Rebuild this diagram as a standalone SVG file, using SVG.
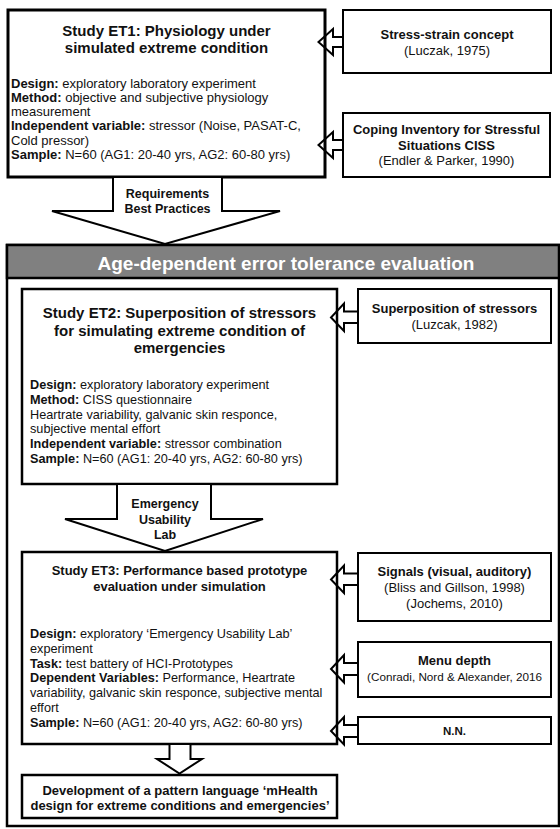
<svg xmlns="http://www.w3.org/2000/svg" width="560" height="829" viewBox="0 0 560 829">
<style>
text{font-family:"Liberation Sans",Arial,sans-serif;fill:#111}
.b{font-weight:bold}
.t15{font-size:15px;font-weight:bold}
.t13b{font-size:13px;font-weight:bold}
.c{text-anchor:middle}
.body13{font-size:13px}
.body127{font-size:12.7px}
.main{fill:#fff;stroke:#000;stroke-width:3}
.mid{fill:#fff;stroke:#000;stroke-width:2.5}
.side{fill:#fff;stroke:#000;stroke-width:2}
.conn{fill:#fff;stroke:#000;stroke-width:2;stroke-linejoin:miter}
.conn2{fill:none;stroke:#000;stroke-width:2;stroke-linejoin:miter}
</style>
<rect width="560" height="829" fill="#fff"/>

<g id="frame">
<rect x="7" y="245" width="552" height="581" fill="#fff" stroke="#000" stroke-width="2.5"/>
<rect x="7" y="245" width="552" height="33" fill="#808080" stroke="#000" stroke-width="2.5"/>
<text x="286" y="270" class="c b" style="font-size:19px;fill:#fff">Age-dependent error tolerance evaluation</text>
</g>

<g id="et1">
<rect x="8" y="10" width="317" height="167" class="main"/>
<text x="166.5" y="36" class="c t15">Study ET1: Physiology under</text>
<text x="166.5" y="52.7" class="c t15">simulated extreme condition</text>
<g class="body13">
<text x="11" y="87.5"><tspan class="b">Design:</tspan> exploratory laboratory experiment</text>
<text x="11" y="101.8"><tspan class="b">Method:</tspan> objective and subjective physiology</text>
<text x="11" y="116.1">measurement</text>
<text x="11" y="130.4"><tspan class="b">Independent variable:</tspan> stressor (Noise, PASAT-C,</text>
<text x="11" y="144.7">Cold pressor)</text>
<text x="11" y="159"><tspan class="b">Sample:</tspan> N=60 (AG1: 20-40 yrs, AG2: 60-80 yrs)</text>
</g>
</g>

<g id="stress-strain">
<rect x="343" y="10" width="208" height="63" class="side"/>
<text x="447" y="38.5" class="c t13b">Stress-strain concept</text>
<text x="447" y="54.5" class="c body13">(Luczak, 1975)</text>
</g>

<g id="ciss">
<rect x="343" y="113" width="207" height="64" class="side"/>
<text x="446.5" y="134" class="c t13b">Coping Inventory for Stressful</text>
<text x="446.5" y="149.5" class="c t13b">Situations CISS</text>
<text x="446.5" y="165" class="c body13">(Endler &amp; Parker, 1990)</text>
</g>

<g id="et2">
<rect x="22" y="289" width="315" height="195" class="mid"/>
<text x="179.5" y="318" class="c t15">Study ET2: Superposition of stressors</text>
<text x="179.5" y="335.5" class="c t15">for simulating extreme condition of</text>
<text x="179.5" y="353" class="c t15">emergencies</text>
<g class="body127">
<text x="30" y="389"><tspan class="b">Design:</tspan> exploratory laboratory experiment</text>
<text x="30" y="403.8"><tspan class="b">Method:</tspan> CISS questionnaire</text>
<text x="30" y="418.6">Heartrate variability, galvanic skin responce,</text>
<text x="30" y="433.4">subjective mental effort</text>
<text x="30" y="448.2"><tspan class="b">Independent variable:</tspan> stressor combination</text>
<text x="30" y="463"><tspan class="b">Sample:</tspan> N=60 (AG1: 20-40 yrs, AG2: 60-80 yrs)</text>
</g>
</g>

<g id="superposition">
<rect x="358" y="289" width="193" height="54" class="side"/>
<text x="454.5" y="313" class="c t13b">Superposition of stressors</text>
<text x="454.5" y="328.5" class="c body13">(Luzcak, 1982)</text>
</g>

<g id="et3">
<rect x="22" y="552" width="315" height="192" class="mid"/>
<text x="179.5" y="575" class="c t13b">Study ET3: Performance based prototype</text>
<text x="179.5" y="591" class="c t13b">evaluation under simulation</text>
<g class="body127">
<text x="30" y="638"><tspan class="b">Design:</tspan> exploratory ‘Emergency Usability Lab’</text>
<text x="30" y="652.8">experiment</text>
<text x="30" y="667.6"><tspan class="b">Task:</tspan> test battery of HCI-Prototypes</text>
<text x="30" y="682.4"><tspan class="b">Dependent Variables:</tspan> Performance, Heartrate</text>
<text x="30" y="697.2">variability, galvanic skin responce, subjective mental</text>
<text x="30" y="712">effort</text>
<text x="30" y="726.8"><tspan class="b">Sample:</tspan> N=60 (AG1: 20-40 yrs, AG2: 60-80 yrs)</text>
</g>
</g>

<g id="signals">
<rect x="358" y="553" width="193" height="68" class="side"/>
<text x="454.5" y="576" class="c t13b">Signals (visual, auditory)</text>
<text x="454.5" y="592" class="c body13">(Bliss and Gillson, 1998)</text>
<text x="454.5" y="607.5" class="c body13">(Jochems, 2010)</text>
</g>

<g id="menu-depth">
<rect x="358" y="642" width="193" height="55" class="side"/>
<text x="454.5" y="665" class="c t13b">Menu depth</text>
<text x="454.5" y="680.5" class="c" style="font-size:11.7px">(Conradi, Nord &amp; Alexander, 2016</text>
</g>

<g id="nn">
<rect x="358" y="717" width="193" height="27" class="side"/>
<text x="454.5" y="735" class="c" style="font-size:11.5px;font-weight:bold">N.N.</text>
</g>

<g id="development">
<rect x="22" y="775" width="315" height="43" class="mid"/>
<text x="180" y="795" class="c t13b">Development of a pattern language ‘mHealth</text>
<text x="180" y="809.5" class="c t13b">design for extreme conditions and emergencies’</text>
</g>

<g id="connectors">
<path d="M113,178 V211 H52 L165,244 L280,211 H222 V178" class="conn" stroke-width="2.5"/>
<text x="167.5" y="198" class="c b" style="font-size:12.5px">Requirements</text>
<text x="167.5" y="213" class="c b" style="font-size:12.5px">Best Practices</text>

<path d="M117,485 V519 H65 L165,551 L263,519 H211 V485" class="conn" stroke-width="2.5"/>
<text x="165" y="508" class="c b" style="font-size:12.5px">Emergency</text>
<text x="165" y="523.5" class="c b" style="font-size:12.5px">Usability</text>
<text x="165" y="539" class="c b" style="font-size:12.5px">Lab</text>

<path d="M169.5,745 V759 H157 L179.5,773.5 L202,759 H190.5 V745" class="conn"/>

<path d="M343,37 H333 V29 L318.5,42 L333,55 V47 H343" class="conn2"/>
<path d="M343,140 H333 V132 L318.5,145 L333,158 V150 H343" class="conn2"/>
<path d="M358,311.5 H344 V303.5 L331,317.5 L344,331 V323 H358" class="conn2"/>
<path d="M358,573.5 H344 V565.5 L331,579.5 L344,593 V585 H358" class="conn2"/>
<path d="M358,663 H344 V655 L331,669 L344,682.5 V675 H358" class="conn2"/>
<path d="M358,725 H344 V717 L331,731 L344,744.5 V737 H358" class="conn2"/>
</g>
</svg>
